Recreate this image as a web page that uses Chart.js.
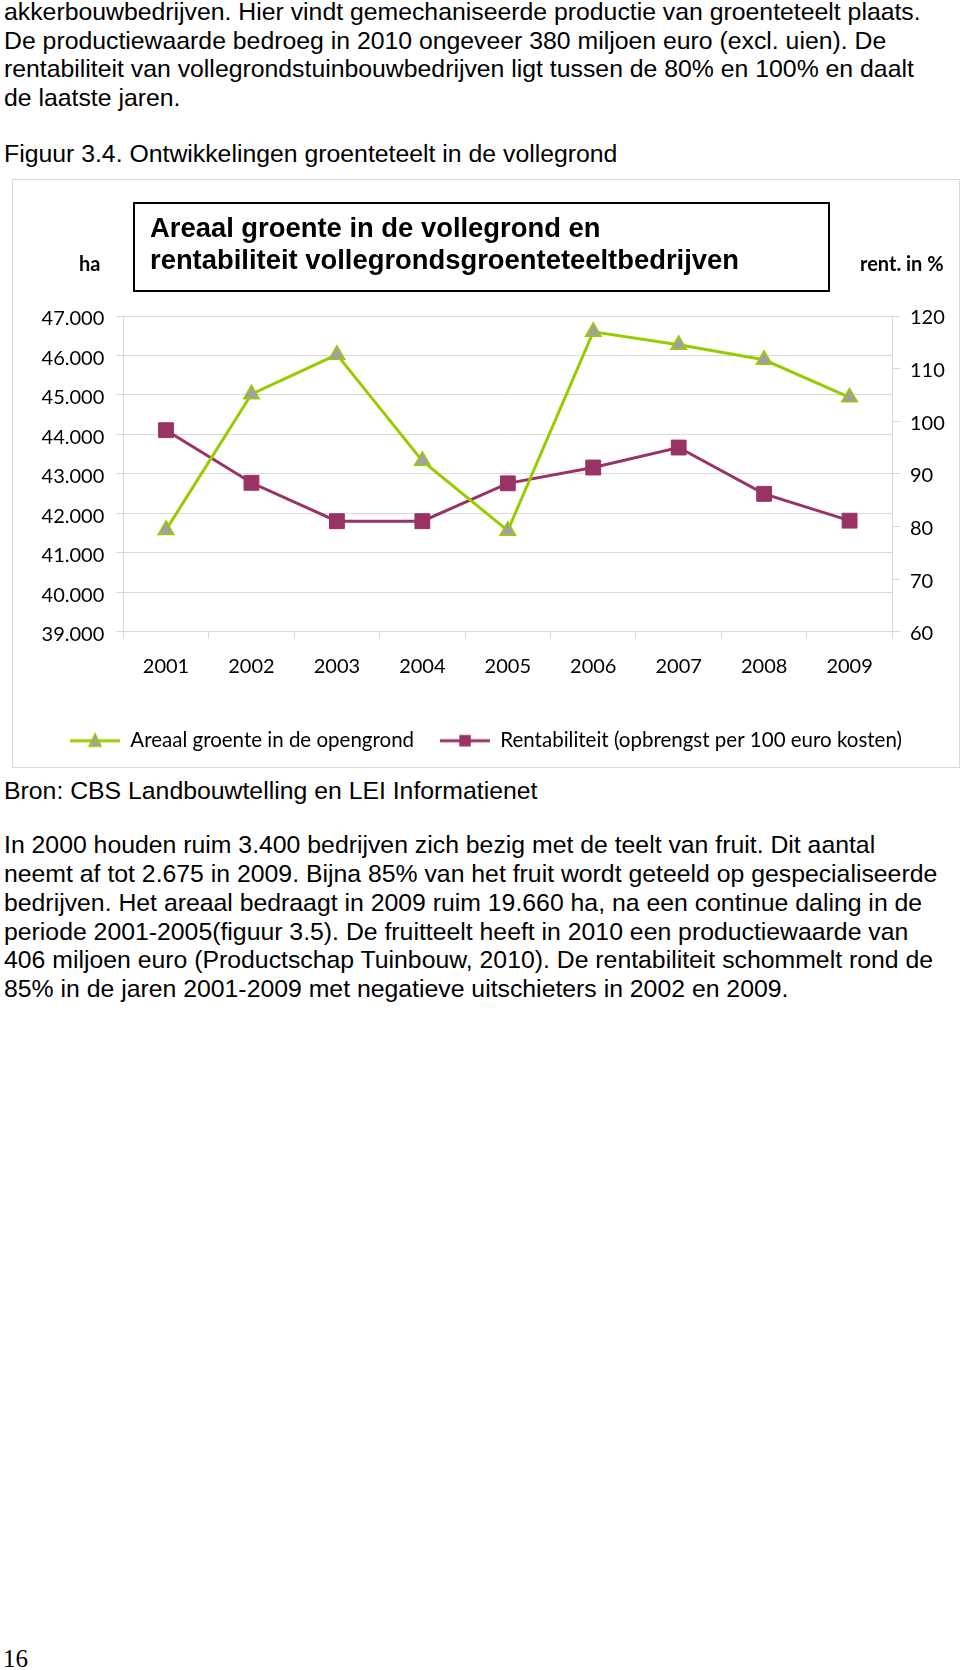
<!DOCTYPE html>
<html>
<head>
<meta charset="utf-8">
<title>Figuur 3.4</title>
<script src="https://cdn.jsdelivr.net/npm/chart.js@4.4.0/dist/chart.umd.min.js"></script>
<style>
  html, body { margin: 0; padding: 0; background: #fff; }
  body { width: 960px; height: 1670px; position: relative; overflow: hidden;
         font-family: "Liberation Sans", Arial, sans-serif; color: #000; }
  .txt { position: absolute; left: 4px; font-size: 24.8px; line-height: 28.7px; white-space: nowrap; }
  #chartFrame { position: absolute; left: 12px; top: 179px; width: 948px; height: 589px;
                box-sizing: border-box; border: 1px solid #d9d9d9; z-index: 2; pointer-events: none; }
  #chart { position: absolute; left: 13px; top: 180px; z-index: 1; }
  #titleBox { position: absolute; left: 133px; top: 202px; width: 697px; height: 90px;
              box-sizing: border-box; border: 2px solid #000; z-index: 3; }
  .ttl { position: absolute; left: 150px; font-weight: bold; font-size: 27.4px; line-height: 1; white-space: nowrap; z-index: 4; }
  .unit { position: absolute; font-family: Lato, sans-serif; font-weight: bold; font-size: 20px; line-height: 1; top: 253px; z-index: 4; white-space: nowrap; }
  #pageNo { position: absolute; left: 3px; top: 1646px; font-family: "Liberation Serif", serif; font-size: 25px; line-height: 1; }
</style>
</head>
<body>

<div class="txt" style="top:-2.2px">
  <div>akkerbouwbedrijven. Hier vindt gemechaniseerde productie van groenteteelt plaats.</div>
  <div>De productiewaarde bedroeg in 2010 ongeveer 380 miljoen euro (excl. uien). De</div>
  <div>rentabiliteit van vollegrondstuinbouwbedrijven ligt tussen de 80% en 100% en daalt</div>
  <div>de laatste jaren.</div>
</div>
<div class="txt" style="top:140.4px">Figuur 3.4. Ontwikkelingen groenteteelt in de vollegrond</div>

<canvas id="chart" width="946" height="587"></canvas>
<div id="chartFrame"></div>
<div id="titleBox"></div>
<div class="ttl" style="top:213.8px">Areaal groente in de vollegrond en</div>
<div class="ttl" style="top:246px">rentabiliteit vollegrondsgroenteteeltbedrijven</div>
<div class="unit" style="left:79px">ha</div>
<div class="unit" style="left:860px">rent. in %</div>

<div class="txt" style="top:777px">Bron: CBS Landbouwtelling en LEI Informatienet</div>
<div class="txt" style="top:831.4px">
  <div>In 2000 houden ruim 3.400 bedrijven zich bezig met de teelt van fruit. Dit aantal</div>
  <div>neemt af tot 2.675 in 2009. Bijna 85% van het fruit wordt geteeld op gespecialiseerde</div>
  <div>bedrijven. Het areaal bedraagt in 2009 ruim 19.660 ha, na een continue daling in de</div>
  <div>periode 2001-2005(figuur 3.5). De fruitteelt heeft in 2010 een productiewaarde van</div>
  <div>406 miljoen euro (Productschap Tuinbouw, 2010). De rentabiliteit schommelt rond de</div>
  <div>85% in de jaren 2001-2009 met negatieve uitschieters in 2002 en 2009.</div>
</div>

<div id="pageNo">16</div>

<script>
// data
const years = ['2001', '2002', '2003', '2004', '2005', '2006', '2007', '2008', '2009'];
const areaalHa = [41580, 45020, 46020, 43330, 41560, 46600, 46270, 45890, 44940];
const rentabiliteit = [98.3, 88.3, 81.0, 81.0, 88.2, 91.2, 95.0, 86.2, 81.1];
const seriesLabels = ['Areaal groente in de opengrond', 'Rentabiliteit (opbrengst per 100 euro kosten)'];

// axis ranges
const haMin = 39000, haMax = 47000, haStep = 1000;
const rentMin = 60, rentMax = 120, rentStep = 10;

const green = '#99cc00';
const plum = '#993366';
const markerGrey = '#a0a0a0';
const gridGrey = '#d9d9d9';

// legend symbols: short line with the marker in the middle
function legendIcon(kind) {
  const c = document.createElement('canvas');
  c.width = 50;
  c.height = 20;
  const g = c.getContext('2d');
  g.lineWidth = 3;
  g.strokeStyle = kind === 'triangle' ? green : plum;
  g.beginPath();
  g.moveTo(0, 10);
  g.lineTo(50, 10);
  g.stroke();
  if (kind === 'triangle') {
    g.beginPath();
    g.moveTo(25, 3);
    g.lineTo(31, 15.5);
    g.lineTo(19, 15.5);
    g.closePath();
    g.fillStyle = markerGrey;
    g.fill();
    g.lineWidth = 1.5;
    g.strokeStyle = green;
    g.stroke();
  } else {
    g.fillStyle = plum;
    g.fillRect(19.25, 4.25, 11.5, 11.5);
  }
  return c;
}
const icons = [legendIcon('triangle'), legendIcon('rect')];

Chart.defaults.font.family = 'Lato';
Chart.defaults.color = '#000';

new Chart(document.getElementById('chart'), {
  type: 'line',
  data: {
    labels: years,
    datasets: [
      {
        label: seriesLabels[0],
        data: areaalHa,
        yAxisID: 'yHa',
        borderColor: green,
        backgroundColor: green,
        borderWidth: 3,
        pointStyle: 'triangle',
        pointRadius: 9,
        pointBackgroundColor: markerGrey,
        pointBorderColor: green,
        pointBorderWidth: 1.5
      },
      {
        label: seriesLabels[1],
        data: rentabiliteit,
        yAxisID: 'yRent',
        borderColor: plum,
        backgroundColor: plum,
        borderWidth: 3,
        pointStyle: 'rect',
        pointRadius: 10.5,
        pointBackgroundColor: plum,
        pointBorderColor: plum,
        pointBorderWidth: 1
      }
    ]
  },
  options: {
    responsive: false,
    animation: false,
    devicePixelRatio: 1,
    layout: { padding: { top: 136, left: 0, right: 0, bottom: 6 } },
    scales: {
      x: {
        offset: true,
        grid: { offset: true, drawOnChartArea: false, tickLength: 7, color: gridGrey },
        border: { color: gridGrey },
        ticks: { padding: 15.5, maxRotation: 0, autoSkip: false, font: { size: 20 } },
        afterFit: s => { s.height = 72.8; }
      },
      yHa: {
        position: 'left',
        min: haMin,
        max: haMax,
        grid: { color: gridGrey, tickLength: 7 },
        border: { color: gridGrey },
        ticks: { stepSize: haStep, padding: 12, labelOffset: 3, font: { size: 20 }, callback: v => (v / 1000).toFixed(3) },
        afterFit: s => { s.width = 110.3; }
      },
      yRent: {
        position: 'right',
        min: rentMin,
        max: rentMax,
        grid: { drawOnChartArea: false, color: gridGrey, tickLength: 8 },
        border: { color: gridGrey },
        ticks: { stepSize: rentStep, padding: 9.7, labelOffset: 2, font: { size: 20 } },
        afterFit: s => { s.width = 66.7; }
      }
    },
    plugins: {
      legend: {
        position: 'bottom',
        labels: {
          usePointStyle: true,
          pointStyleWidth: 50,
          padding: 26,
          font: { size: 20.5 },
          color: '#000',
          generateLabels: chart => {
            const items = Chart.defaults.plugins.legend.labels.generateLabels(chart);
            items.forEach((item, i) => { item.pointStyle = icons[i]; });
            return items;
          }
        }
      },
      tooltip: { enabled: false }
    }
  }
});
</script>
</body>
</html>
